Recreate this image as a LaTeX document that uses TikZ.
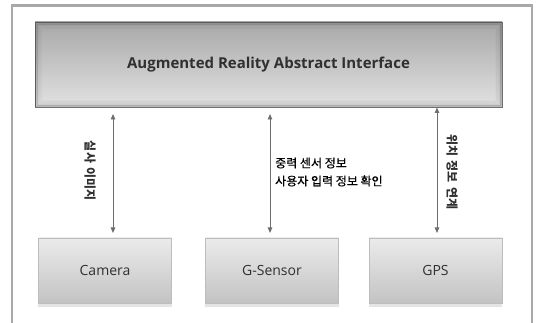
\documentclass[tikz,border=0pt]{standalone}
\usepackage{fontspec}
\setmainfont{Open Sans}
\newfontfamily\kr{Noto Sans CJK KR}
\newfontfamily\krmed[FakeBold=0.6]{Noto Sans CJK KR}
\usetikzlibrary{arrows.meta,calc}
\definecolor{framegray}{HTML}{A8A8A8}
\definecolor{txt}{HTML}{303030}
\definecolor{arrgray}{HTML}{6E6E6E}
\definecolor{boxedge}{HTML}{BDBDBD}
\definecolor{boxtop}{HTML}{EBEBEB}
\definecolor{boxbot}{HTML}{C3C3C3}
\definecolor{bigtop}{HTML}{A8A8A8}
\definecolor{bigbot}{HTML}{E2E2E2}
\definecolor{bigedge}{HTML}{707070}
\definecolor{shadowgray}{HTML}{E4E4E4}
\tikzset{
  devbox/.style={draw=boxedge, line width=0.8pt, top color=boxtop, bottom color=boxbot,
    minimum width=133, minimum height=65, inner sep=0pt, text=txt,
    font=\fontsize{14}{16}\selectfont},
  bigbox/.style={draw=bigedge, line width=0.8pt, top color=bigtop, bottom color=bigbot,
    minimum width=467, minimum height=85, inner sep=0pt, text=txt,
    font=\bfseries\fontsize{15}{18}\selectfont},
  link/.style={draw=arrgray, line width=0.9pt, {Triangle[length=5.5pt,width=4.5pt]}-{Triangle[length=5.5pt,width=4.5pt]}},
  vlabel/.style={rotate=-90, text=txt, font=\kr\bfseries\fontsize{12}{14}\selectfont, inner sep=0pt},
  hlabel/.style={text=black, font=\krmed\fontsize{12}{18}\selectfont, align=left, inner sep=0pt, anchor=west}
}
\begin{document}
\begin{tikzpicture}[x=1pt,y=-1pt]
\useasboundingbox (0,0) rectangle (536,323);
% outer frame (open at the bottom)
\draw[framegray, line width=2.2pt] (12,330) -- (12,5.5) -- (532,5.5) -- (532,330);
% top interface box
\node[bigbox] (ari) at (268.5,64.5) {Augmented Reality Abstract Interface};
\foreach \i/\o in {0.8/0.18,1.6/0.14,2.4/0.10,3.2/0.08,4.0/0.06,4.8/0.045,5.6/0.03,6.4/0.02,7.2/0.012}{
  \draw[black, opacity=\o, line width=0.8pt]
    ($(ari.north west)+(\i,\i)$) rectangle ($(ari.south east)+(-\i,-\i)$);
}
% device boxes
\node[devbox] (cam) at (105,270.5) {Camera};
\node[devbox] (gs) at (272,270.5) {G-Sensor};
\node[devbox] (gps) at (435.5,270.5) {GPS};
\foreach \n in {cam,gs,gps}{
  \fill[shadowgray] ($(\n.south west)+(0,0.5)$) rectangle ($(\n.south east)+(0,4)$);
}
% arrow ends
\coordinate (c1) at (113,114);
\coordinate (c2) at (113,233);
\coordinate (g1) at (270,114);
\coordinate (g2) at (270,233);
\coordinate (p1) at (437,107.5);
\coordinate (p2) at (437,233);
\draw[link] (c1) -- (c2);
\draw[link] (g1) -- (g2);
\draw[link] (p1) -- (p2);
% labels
\node[vlabel] (lc) at (90,171) {실사\hspace{0.4em}이미지};
\node[vlabel] (lp) at (452,172) {위치\hspace{0.4em}정보\hspace{0.4em}연계};
\node[hlabel] (lg) at (275,172) {중력 센서 정보\\사용자 입력 정보 확인};
\end{tikzpicture}
\end{document}
